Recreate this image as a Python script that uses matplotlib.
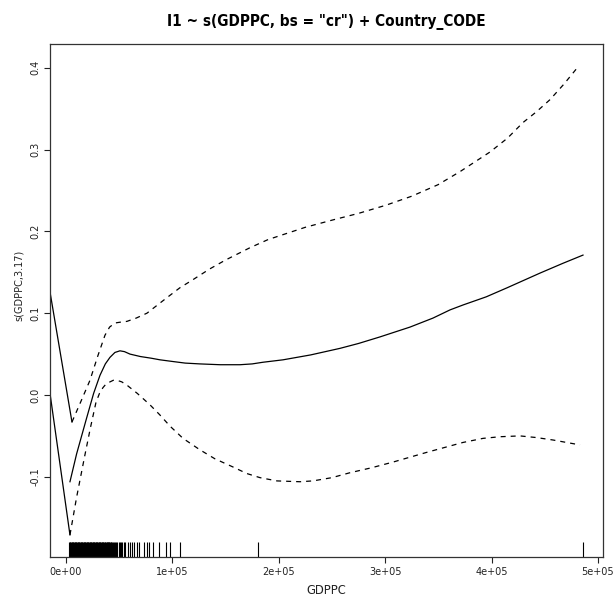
import matplotlib
matplotlib.use("Agg")
import matplotlib.pyplot as plt
from matplotlib.ticker import FixedLocator, FixedFormatter

# fitted smooth s(GDPPC) and its +/- 2 se band
fit_x = [3760, 10000, 18800, 26000, 31950, 37000, 41350, 46000, 50750, 55000,
         60150, 70000, 80000, 88350, 100000, 112000, 125900, 145000, 163500,
         175000, 185000, 204000, 230000, 257500, 275000, 295100, 323300, 344900,
         360900, 373100, 395000, 414500, 430000, 445500, 467100, 485900]
fit_y = [-0.106, -0.072, -0.031, 0.002, 0.024, 0.038, 0.046, 0.052, 0.054, 0.053,
         0.050, 0.047, 0.045, 0.043, 0.041, 0.039, 0.038, 0.037, 0.037,
         0.038, 0.040, 0.043, 0.049, 0.057, 0.063, 0.071, 0.083, 0.094,
         0.104, 0.110, 0.120, 0.131, 0.140, 0.149, 0.161, 0.171]

upper_x = [5640, 14000, 22560, 30000, 36650, 41000, 46050, 51000, 57330, 66000,
           76130, 85000, 94920, 107000, 119400, 135000, 150000, 172900, 190000,
           204000, 225000, 250900, 275000, 300800, 325000, 349600, 370300, 398500,
           415000, 429500, 442000, 454900, 468000, 481200]
upper_y = [-0.033, -0.008, 0.018, 0.048, 0.073, 0.083, 0.088, 0.089, 0.090, 0.094,
           0.100, 0.109, 0.119, 0.131, 0.141, 0.154, 0.165, 0.180, 0.190,
           0.196, 0.205, 0.214, 0.222, 0.232, 0.243, 0.257, 0.273, 0.297,
           0.314, 0.333, 0.346, 0.361, 0.380, 0.401]

lower_x = [3760, 10000, 17860, 23000, 28200, 31500, 34770, 38000, 41350, 44500,
           47930, 52500, 57330, 67000, 78950, 88000, 97740, 110000, 125900, 140000,
           157000, 170000, 182300, 198300, 219900, 232100, 250000, 266900, 287000,
           307300, 339300, 373100, 392000, 407900, 426700, 442000, 457700, 483100]
lower_y = [-0.171, -0.125, -0.073, -0.040, -0.009, 0.002, 0.009, 0.014, 0.016, 0.018,
           0.018, 0.016, 0.012, 0.002, -0.012, -0.024, -0.038, -0.053, -0.067, -0.078,
           -0.088, -0.096, -0.101, -0.105, -0.106, -0.105, -0.101, -0.095, -0.089,
           -0.082, -0.070, -0.058, -0.053, -0.051, -0.050, -0.052, -0.055, -0.061]

# segments entering from the left border
edge_x = -15000
upper_edge_y = 0.126
lower_edge_y = 0.002

# observed GDPPC values (rug)
rug_x = [3100, 3600, 4200, 4700, 5300, 5800, 6400, 6900, 7500, 8100, 8600, 9200,
         9800, 10300, 10900, 11400, 12000, 12600, 13100, 13700, 14300, 14800,
         15400, 16000, 16500, 17100, 17700, 18200, 18800, 19400, 19900, 20500,
         21100, 21600, 22200, 22800, 23300, 23900, 24500, 25000, 25600, 26200,
         26700, 27300, 27900, 28400, 29000, 29600, 30100, 30700, 31300, 31800,
         32400, 33000, 33500, 34100, 34700, 35200, 35800, 36400, 36900, 37500,
         38100, 38600, 39200, 39800, 40300, 40900, 41500, 42000, 42600, 43300,
         44100, 45000, 46200, 47400, 48300, 49500, 50600, 51800, 53000, 54200,
         55450, 57990, 60150, 62310, 64190, 66450, 68890, 73590, 75840, 78010,
         82050, 87690, 93930, 97740, 107100, 180700, 485600]

x_ticks = [0, 100000, 200000, 300000, 400000, 500000]
x_tick_labels = ["0e+00", "1e+05", "2e+05", "3e+05", "4e+05", "5e+05"]
y_ticks = [-0.1, 0.0, 0.1, 0.2, 0.3, 0.4]
y_tick_labels = ["-0.1", "0.0", "0.1", "0.2", "0.3", "0.4"]

plt.rcParams['font.family'] = ['DejaVu Sans']

fig = plt.figure(figsize=(6.14, 5.96), dpi=100)
ax = fig.add_axes([50 / 614, (596 - 557) / 596, 553 / 614, 513 / 596])

lw = 0.9
ax.plot(fit_x, fit_y, color='black', lw=lw)
ax.plot(upper_x, upper_y, color='black', lw=lw, dashes=(4, 4))
ax.plot(lower_x, lower_y, color='black', lw=lw, dashes=(4, 4))
ax.plot([edge_x, upper_x[0]], [upper_edge_y, upper_y[0]], color='black', lw=lw)
ax.plot([edge_x, lower_x[0]], [lower_edge_y, lower_y[0]], color='black', lw=lw)

ax.vlines(rug_x, 0, 0.03, color='black', lw=0.8, transform=ax.get_xaxis_transform())

ax.set_xlim(-15000, 504700)
ax.set_ylim(-0.198, 0.429)

ax.xaxis.set_major_locator(FixedLocator(x_ticks))
ax.xaxis.set_major_formatter(FixedFormatter(x_tick_labels))
ax.yaxis.set_major_locator(FixedLocator(y_ticks))
ax.yaxis.set_major_formatter(FixedFormatter(y_tick_labels))
ax.tick_params(axis='both', length=4, width=0.8, labelsize=7, colors='#222222', pad=3)
for lab in ax.get_yticklabels():
    lab.set_rotation(90)
    lab.set_va('center')

for s in ax.spines.values():
    s.set_linewidth(0.9)
    s.set_color('#333333')

ax.set_xlabel("GDPPC", fontsize=8.3, color='#222222', labelpad=5)
ax.set_ylabel("s(GDPPC,3.17)", fontsize=7, color='#222222', labelpad=8)
ax.yaxis.set_label_coords(-0.047, (557 - 285) / 513)
fig.text(0.5 * (50 + 603) / 614, 1 - 22 / 596, 'I1 ~ s(GDPPC, bs = "cr") + Country_CODE',
         ha='center', va='center', fontsize=11, fontweight='bold', fontstretch='condensed')

fig.savefig("out.png", dpi=100)
